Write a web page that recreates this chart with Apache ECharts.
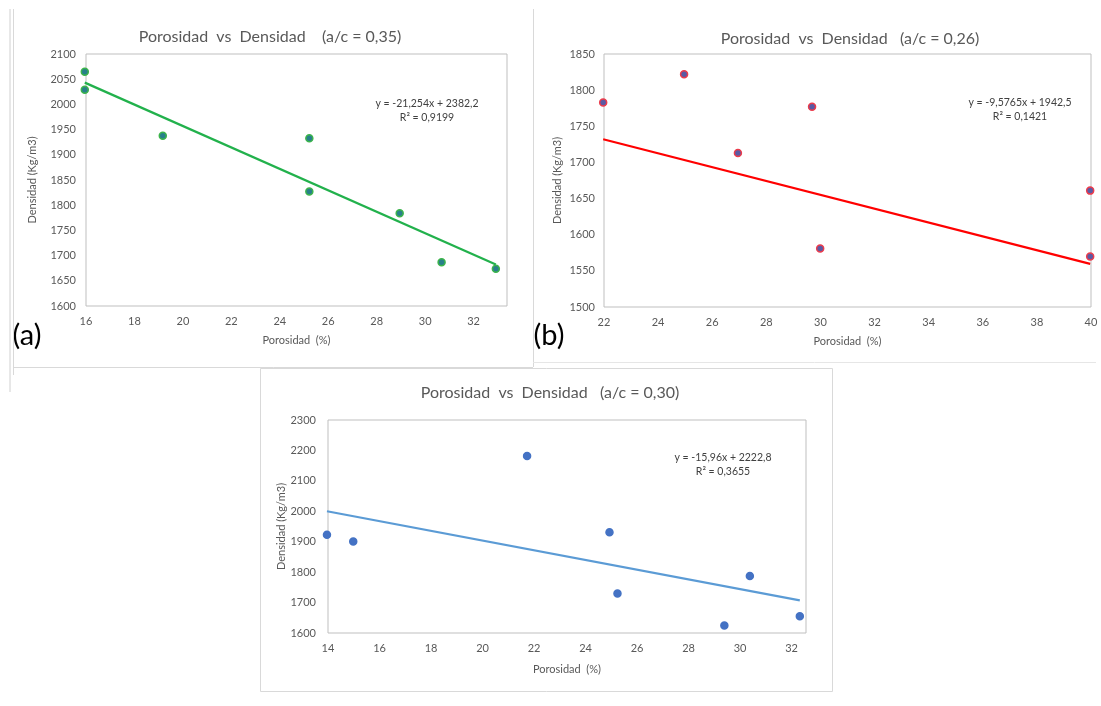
<!DOCTYPE html>
<html>
<head>
<meta charset="utf-8">
<title>Porosidad vs Densidad</title>
<script src="https://cdn.jsdelivr.net/npm/echarts@6/dist/echarts.min.js"></script>
<style>
  html, body { margin: 0; padding: 0; background: #ffffff; }
  #chart { width: 1101px; height: 706px; }
</style>
</head>
<body>
<div id="chart"></div>
<script>
// Mezcla a/c = 0,35
const porosidadA = [15.95, 15.95, 19.17, 25.22, 25.22, 28.95, 30.68, 32.92];
const densidadA  = [2065, 2029, 1938, 1933, 1827, 1784, 1687, 1674];
// Mezcla a/c = 0,26
const porosidadB = [21.97, 24.96, 26.95, 29.69, 29.99, 39.97, 39.97];
const densidadB  = [1783, 1822, 1713, 1777, 1581, 1661, 1570];
// Mezcla a/c = 0,30
const porosidadC = [13.96, 14.98, 21.73, 24.93, 25.24, 29.39, 30.38, 32.32];
const densidadC  = [1923, 1901, 2182, 1931, 1730, 1625, 1787, 1655];

// Regresión lineal de cada mezcla: pendiente, ordenada, R²
const pendientes = [-21.254, -9.5765, -15.96];
const ordenadas  = [2382.2, 1942.5, 2222.8];
const r2         = [0.9199, 0.1421, 0.3655];

const titulos = [
  'Porosidad  vs  Densidad    (a/c = 0,35)',
  'Porosidad  vs  Densidad   (a/c = 0,26)',
  'Porosidad  vs  Densidad   (a/c = 0,30)'
];
const etiquetasPanel = ['(a)', '(b)'];

const FONT = 'Lato, "Open Sans", "Noto Sans", sans-serif';
const GRAY = '#595959';

const dec = v => String(v).replace('.', ',');
const ecuacion = i => 'y = ' + dec(pendientes[i]) + 'x + ' + dec(ordenadas[i]);
const rCuadrado = i => 'R² = ' + dec(r2[i]);

function puntos(xs, ys) { return xs.map((x, k) => [x, ys[k]]); }
function tendencia(i, xs) {
  const x0 = Math.min(...xs), x1 = Math.max(...xs);
  return [[x0, pendientes[i] * x0 + ordenadas[i]], [x1, pendientes[i] * x1 + ordenadas[i]]];
}

const grids = [
  { left: 86,  top: 54,  width: 421, height: 252 },
  { left: 604, top: 54,  width: 487, height: 253 },
  { left: 328, top: 420, width: 478, height: 213 }
].map(g => Object.assign(g, { show: true, borderColor: '#bfbfbf', borderWidth: 1, backgroundColor: 'transparent' }));

function ejeX(idx, min, max, nameGap) {
  return {
    type: 'value', gridIndex: idx, min: min, max: max, interval: 2,
    name: 'Porosidad  (%)', nameLocation: 'middle', nameGap: nameGap,
    nameTextStyle: { color: GRAY, fontSize: 11, fontFamily: FONT },
    axisLine: { show: false }, axisTick: { show: false }, splitLine: { show: false },
    axisLabel: {
      color: GRAY, fontSize: 11, fontFamily: FONT, margin: 10,
      formatter: v => (Math.abs(v - Math.round(v)) < 1e-6 && Math.round(v) % 2 === 0) ? String(Math.round(v)) : ''
    }
  };
}
function ejeY(idx, min, max, interval, nameGap, margin) {
  return {
    type: 'value', gridIndex: idx, min: min, max: max, interval: interval,
    name: 'Densidad (Kg/m3)', nameLocation: 'middle', nameGap: nameGap,
    nameTextStyle: { color: GRAY, fontSize: 11, fontFamily: FONT },
    axisLine: { show: false }, axisTick: { show: false }, splitLine: { show: false },
    axisLabel: { color: GRAY, fontSize: 11, fontFamily: FONT, margin: margin, formatter: v => String(v) }
  };
}

function dispersion(idx, xs, ys, fill, border) {
  return {
    type: 'scatter', xAxisIndex: idx, yAxisIndex: idx, data: puntos(xs, ys),
    symbolSize: 7, z: 3, clip: false,
    itemStyle: { color: fill, borderColor: border, borderWidth: 1.5, opacity: 1 }
  };
}
function recta(idx, xs, color) {
  return {
    type: 'line', xAxisIndex: idx, yAxisIndex: idx, data: tendencia(idx, xs),
    symbol: 'none', z: 4, silent: true, clip: false,
    lineStyle: { color: color, width: 2.2 }
  };
}

function textoEcuacion(i, cx, y) {
  return [
    { type: 'text', x: cx, y: y, style: { text: ecuacion(i), fill: '#404040', font: '10.5px ' + FONT, align: 'center', verticalAlign: 'middle' } },
    { type: 'text', x: cx, y: y + 14, style: { text: rCuadrado(i), fill: '#404040', font: '10.5px ' + FONT, align: 'center', verticalAlign: 'middle' } }
  ];
}
function linea(x1, y1, x2, y2, color) {
  return { type: 'line', shape: { x1: x1, y1: y1, x2: x2, y2: y2 }, style: { stroke: color || '#d9d9d9', lineWidth: 1 }, z: 1 };
}

const chart = echarts.init(document.getElementById('chart'), null, { renderer: 'canvas' });
chart.setOption({
  animation: false,
  backgroundColor: '#ffffff',
  title: [
    { text: titulos[0], left: 265, top: 24, textAlign: 'center' },
    { text: titulos[1], left: 845, top: 26, textAlign: 'center' },
    { text: titulos[2], left: 545, top: 380, textAlign: 'center' }
  ].map(t => Object.assign(t, { textStyle: { color: GRAY, fontSize: 16, fontWeight: 'normal', fontFamily: FONT } })),
  grid: grids,
  xAxis: [ejeX(0, 16, 33.38, 29), ejeX(1, 22, 40, 29), ejeX(2, 14, 32.56, 31)],
  yAxis: [ejeY(0, 1600, 2100, 50, 48, 10), ejeY(1, 1500, 1850, 50, 41, 9), ejeY(2, 1600, 2300, 100, 39, 12)],
  series: [
    dispersion(0, porosidadA, densidadA, '#27808a', '#3cb44b'),
    recta(0, porosidadA, '#22b14c'),
    dispersion(1, porosidadB, densidadB, '#5a5aa4', '#ec3b4b'),
    recta(1, porosidadB, '#ff0000'),
    dispersion(2, porosidadC, densidadC, '#4472c4', '#4472c4'),
    recta(2, porosidadC, '#5b9bd5')
  ],
  graphic: [
    // marcos de los paneles
    linea(10, 9, 10, 392, '#d0d0d0'),
    linea(13.5, 9, 13.5, 375, '#d9d9d9'),
    linea(13.5, 367.5, 533, 367.5),
    linea(533.5, 9, 533.5, 367, '#d9d9d9'),
    linea(533, 362.5, 1096, 362.5, '#e6e6e6'),
    { type: 'rect', shape: { x: 260.5, y: 368.5, width: 572, height: 323 }, style: { fill: 'none', stroke: '#d9d9d9', lineWidth: 1 }, z: 1 },
    // etiquetas de panel
    { type: 'text', x: 27, y: 336, style: { text: etiquetasPanel[0], fill: '#000000', font: '29px ' + FONT, align: 'center', verticalAlign: 'middle' } },
    { type: 'text', x: 549, y: 336, style: { text: etiquetasPanel[1], fill: '#000000', font: '29px ' + FONT, align: 'center', verticalAlign: 'middle' } },
    ...textoEcuacion(0, 427, 104),
    ...textoEcuacion(1, 1020, 103),
    ...textoEcuacion(2, 723, 458)
  ]
});
</script>
</body>
</html>
